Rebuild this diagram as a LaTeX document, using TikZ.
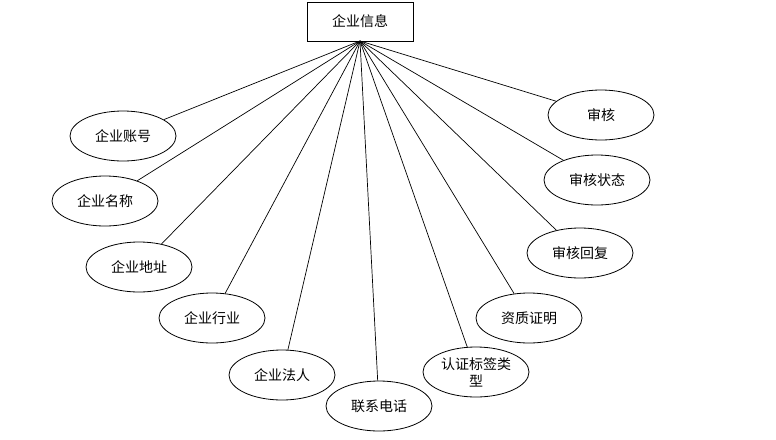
\documentclass[tikz,border=0pt]{standalone}
\usepackage{fontspec}
\newfontfamily\cjk{Noto Sans CJK SC}
\usetikzlibrary{shapes.geometric}
\begin{document}
\begin{tikzpicture}[x=1pt,y=-1pt,
  attr/.style={ellipse,draw,line width=0.8pt,minimum width=106pt,minimum height=50pt,inner sep=0pt,font=\cjk\fontsize{14}{17}\selectfont,align=center},
  ent/.style={rectangle,draw,line width=0.8pt,minimum width=106pt,minimum height=39pt,inner sep=0pt,font=\cjk\fontsize{14}{17}\selectfont},
  link/.style={line width=0.7pt}]
\useasboundingbox (0,0) rectangle (776,439);
\node[ent] (e) at (360,21.5) {企业信息};
\coordinate (hub) at (360,41);
\node[attr] (a1) at (123,136) {企业账号};
\node[attr] (a2) at (105,201) {企业名称};
\node[attr] (a3) at (139,267) {企业地址};
\node[attr] (a4) at (212,318) {企业行业};
\node[attr] (a5) at (282,375) {企业法人};
\node[attr] (a6) at (379,406) {联系电话};
\node[attr] (a7) at (476,372) {认证标签类\\型};
\node[attr] (a8) at (529,318) {资质证明};
\node[attr] (a9) at (580,253) {审核回复};
\node[attr] (a10) at (597,180) {审核状态};
\node[attr] (a11) at (601,115) {审核};
\foreach \n in {a1,a2,a3,a4,a5,a6,a7,a8,a9,a10,a11}
  \draw[link] (hub) -- (\n);
\end{tikzpicture}
\end{document}
